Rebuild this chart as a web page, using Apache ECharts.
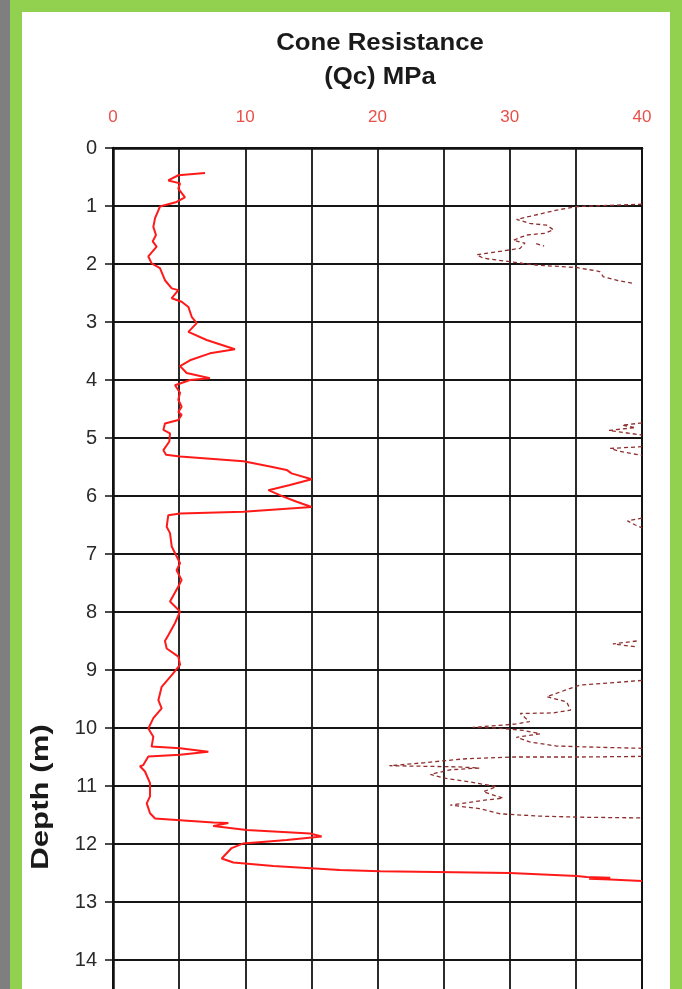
<!DOCTYPE html>
<html>
<head>
<meta charset="utf-8">
<script src="https://cdn.jsdelivr.net/npm/echarts@6/dist/echarts.min.js"></script>
<style>
html,body{margin:0;padding:0;overflow:hidden;width:682px;height:989px;background:#ffffff;}
#gray{position:absolute;left:0;top:0;width:10px;height:989px;background:#7f7f7f;}
#gl{position:absolute;left:10px;top:0;width:12px;height:989px;background:#92d050;}
#gt{position:absolute;left:10px;top:0;width:672px;height:12px;background:#92d050;}
#gr{position:absolute;left:670px;top:0;width:12px;height:989px;background:#92d050;}
#chart{position:absolute;left:0;top:0;width:682px;height:1040px;}
</style>
</head>
<body>
<div id="gray"></div><div id="gl"></div><div id="gt"></div><div id="gr"></div>
<div id="chart"></div>
<script>
// Depth axis ticks (m) and Qc axis ticks (MPa)
var depthTicks = [0,1,2,3,4,5,6,7,8,9,10,11,12,13,14,15];
var qcTickLabels = [0,10,20,30,40];

// Main cone resistance trace (Qc, MPa) vs depth (m)
var qcValue = [6.96,4.94,4.18,5.07,4.94,5.44,4.81,3.55,3.18,3.05,3.25,3.0,3.3,2.67,2.92,3.55,3.93,4.44,4.94,4.44,5.19,5.7,5.95,6.33,5.7,7.08,9.22,7.33,5.82,5.07,5.57,7.33,5.82,4.69,5.07,4.94,5.19,4.94,5.19,4.94,3.93,3.81,4.31,4.26,3.81,4.01,5.07,9.86,11.87,13.13,13.5,15.02,13.38,11.75,12.88,13.89,15.02,9.86,5.07,4.18,4.06,4.31,4.44,5.07,4.81,5.19,4.94,4.31,5.07,4.69,4.18,3.93,4.06,4.94,5.07,4.44,3.68,3.43,3.68,3.05,2.67,3.05,2.92,5.07,7.21,5.07,2.67,2.29,2.04,2.42,2.80,2.80,2.55,2.80,3.18,5.07,7.58,8.72,7.58,10.1,14.9,15.78,13.13,9.86,8.97,8.22,9.1,12.12,17.16,20.2,30.0,35.06,35.8,37.6,36.0,37.6,40];
var qcDepth = [0.43,0.47,0.56,0.61,0.70,0.85,0.93,1.01,1.21,1.36,1.50,1.61,1.70,1.87,1.99,2.07,2.28,2.42,2.45,2.59,2.65,2.74,2.91,3.02,3.17,3.31,3.47,3.54,3.66,3.76,3.88,3.97,4.0,4.09,4.22,4.34,4.46,4.55,4.60,4.69,4.75,4.86,4.92,5.06,5.21,5.29,5.32,5.40,5.49,5.55,5.61,5.71,5.81,5.90,6.01,6.10,6.19,6.27,6.30,6.33,6.53,6.64,6.87,7.16,7.28,7.45,7.56,7.82,7.99,8.19,8.40,8.50,8.63,8.77,8.91,9.09,9.29,9.52,9.66,9.83,10.01,10.15,10.32,10.35,10.41,10.46,10.49,10.64,10.66,10.75,10.95,11.18,11.30,11.47,11.56,11.59,11.63,11.64,11.69,11.76,11.82,11.87,11.93,11.99,12.07,12.25,12.32,12.38,12.45,12.47,12.50,12.55,12.57,12.58,12.60,12.61,12.64];

// Secondary dashed trace (visible parts only; null = trace leaves the plot)
var dashValue = [40,35.06,33.55,31.5,30.52,31.5,32.79,33.3,32.67,31.28,30.27,31.15,30.78,29.0,27.5,28.0,30.0,32.03,35.06,36.8,37.08,38.08,39.47,null,
  32.0,32.6,null,
  40,38.5,39.5,37.5,39.1,40,null,
  40,37.6,38.3,39.5,40,null,
  40,38.9,39.5,40,null,
  39.6,37.8,39.5,null,
  40,35.3,32.8,34.3,34.6,33.3,30.8,31.5,30.5,27.2,29.0,31.0,32.3,30.5,31.5,33.5,36.3,40,null,
  40,35.3,30.3,26.7,25.7,23.5,20.9,23.5,26.0,27.7,25.5,24.0,25.2,27.0,29.0,28.0,29.5,28.25,26.7,25.5,27.7,29.3,32.3,35.8,40];
var dashDepth = [0.97,1.01,1.07,1.18,1.23,1.30,1.33,1.41,1.47,1.50,1.59,1.64,1.73,1.79,1.84,1.90,1.96,2.02,2.06,2.13,2.22,2.28,2.34,null,
  1.65,1.69,null,
  4.74,4.78,4.82,4.87,4.92,4.95,null,
  5.15,5.18,5.23,5.28,5.30,null,
  6.38,6.43,6.50,6.55,null,
  8.50,8.55,8.60,null,
  9.18,9.26,9.46,9.55,9.69,9.74,9.75,9.89,9.93,9.99,10.0,10.04,10.10,10.16,10.24,10.31,10.33,10.35,null,
  10.49,10.50,10.50,10.53,10.55,10.60,10.65,10.66,10.67,10.69,10.72,10.80,10.87,10.93,11.01,11.10,11.21,11.24,11.29,11.33,11.39,11.48,11.52,11.54,11.55];

var qcData = qcValue.map(function(v,i){return [v, qcDepth[i]];});
var dashData = dashValue.map(function(v,i){return v===null ? ['-','-'] : [v, dashDepth[i]];});

var FONT = "'Liberation Sans', Arial, sans-serif";
var chart = echarts.init(document.getElementById('chart'), null, {renderer:'canvas'});
chart.setOption({
  animation:false,
  backgroundColor:'transparent',
  grid:{left:113, top:148, width:529, height:870, show:true, borderColor:'#111', borderWidth:2, backgroundColor:'transparent'},
  xAxis:{
    type:'value', position:'top', min:0, max:40, interval:5,
    axisLine:{show:true, lineStyle:{color:'#111', width:2.5}},
    axisTick:{show:false},
    axisLabel:{color:'#e8504a', fontFamily:FONT, fontSize:17, margin:22,
      formatter:function(v){return qcTickLabels.indexOf(v)>=0 ? String(v) : '';}},
    splitLine:{show:true, lineStyle:{color:'#151515', width:1.8}}
  },
  yAxis:{
    type:'value', inverse:true, min:0, max:15, interval:1,
    axisLine:{show:true, onZero:false, lineStyle:{color:'#111', width:2.5}},
    axisTick:{show:true, inside:false, length:8, lineStyle:{color:'#111', width:1.5}},
    axisLabel:{color:'#2a2a2a', fontFamily:FONT, fontSize:20, margin:16,
      formatter:function(v){return depthTicks.indexOf(v)>=0 ? String(v) : '';}},
    splitLine:{show:true, lineStyle:{color:'#151515', width:1.8}}
  },
  graphic:[
    {type:'text', x:380, y:44, scaleX:1.12,
     style:{text:'Cone Resistance', fontFamily:FONT, fontSize:23, fontWeight:'bold', fill:'#1a1a1a', align:'center', verticalAlign:'middle'}},
    {type:'text', x:380, y:78, scaleX:1.12,
     style:{text:'(Qc) MPa', fontFamily:FONT, fontSize:23, fontWeight:'bold', fill:'#1a1a1a', align:'center', verticalAlign:'middle'}},
    {type:'text', x:41, y:797, rotation:Math.PI/2, scaleX:1.3,
     style:{text:'Depth (m)', fontFamily:FONT, fontSize:24, fontWeight:'bold', fill:'#1a1a1a', align:'center', verticalAlign:'middle'}}
  ],
  series:[
    {type:'line', data:dashData, showSymbol:false, symbol:'none', connectNulls:false, clip:true,
     lineStyle:{color:'#8e2f2f', width:1.3, type:[4,3]}, z:3},
    {type:'line', data:qcData, showSymbol:false, symbol:'none', clip:true,
     lineStyle:{color:'#ff1a1a', width:2}, z:4}
  ]
});
</script>
</body>
</html>
